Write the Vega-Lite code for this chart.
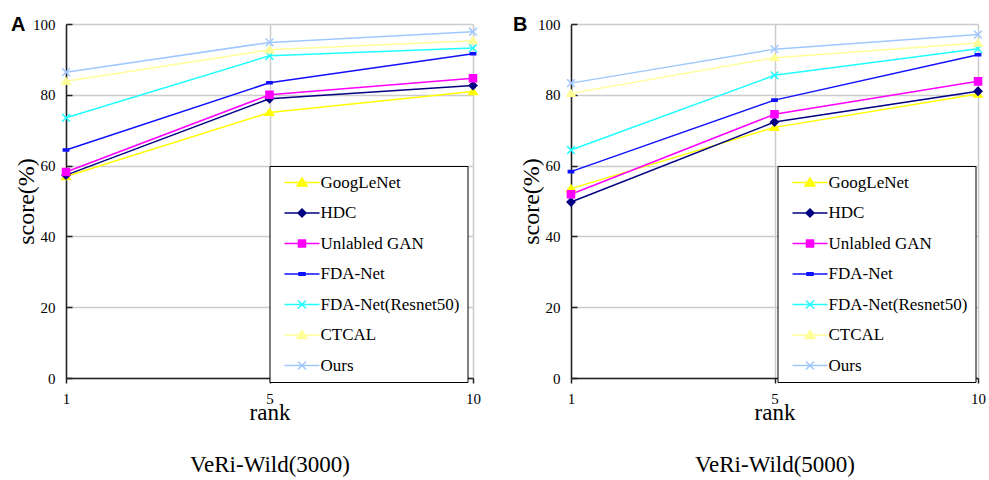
{
  "$schema": "https://vega.github.io/schema/vega-lite/v6.json",
  "padding": {"left": 11, "top": 15, "right": 5, "bottom": 5},
  "background": "white",
  "datasets": {
    "A": [
      {"method": "GoogLeNet", "rank": 1, "score": 56.9}, {"method": "GoogLeNet", "rank": 5, "score": 75.0}, {"method": "GoogLeNet", "rank": 10, "score": 80.9},
      {"method": "HDC", "rank": 1, "score": 57.3}, {"method": "HDC", "rank": 5, "score": 78.9}, {"method": "HDC", "rank": 10, "score": 82.6},
      {"method": "Unlabled GAN", "rank": 1, "score": 58.2}, {"method": "Unlabled GAN", "rank": 5, "score": 80.0}, {"method": "Unlabled GAN", "rank": 10, "score": 84.7},
      {"method": "FDA-Net", "rank": 1, "score": 64.4}, {"method": "FDA-Net", "rank": 5, "score": 83.4}, {"method": "FDA-Net", "rank": 10, "score": 91.6},
      {"method": "FDA-Net(Resnet50)", "rank": 1, "score": 73.5}, {"method": "FDA-Net(Resnet50)", "rank": 5, "score": 91.0}, {"method": "FDA-Net(Resnet50)", "rank": 10, "score": 93.2},
      {"method": "CTCAL", "rank": 1, "score": 83.8}, {"method": "CTCAL", "rank": 5, "score": 92.7}, {"method": "CTCAL", "rank": 10, "score": 95.3},
      {"method": "Ours", "rank": 1, "score": 86.4}, {"method": "Ours", "rank": 5, "score": 94.8}, {"method": "Ours", "rank": 10, "score": 97.8}
    ],
    "B": [
      {"method": "GoogLeNet", "rank": 1, "score": 53.5}, {"method": "GoogLeNet", "rank": 5, "score": 70.8}, {"method": "GoogLeNet", "rank": 10, "score": 80.2},
      {"method": "HDC", "rank": 1, "score": 49.7}, {"method": "HDC", "rank": 5, "score": 72.3}, {"method": "HDC", "rank": 10, "score": 81.0},
      {"method": "Unlabled GAN", "rank": 1, "score": 51.9}, {"method": "Unlabled GAN", "rank": 5, "score": 74.5}, {"method": "Unlabled GAN", "rank": 10, "score": 83.8},
      {"method": "FDA-Net", "rank": 1, "score": 58.3}, {"method": "FDA-Net", "rank": 5, "score": 78.5}, {"method": "FDA-Net", "rank": 10, "score": 91.3},
      {"method": "FDA-Net(Resnet50)", "rank": 1, "score": 64.4}, {"method": "FDA-Net(Resnet50)", "rank": 5, "score": 85.5}, {"method": "FDA-Net(Resnet50)", "rank": 10, "score": 93.0},
      {"method": "CTCAL", "rank": 1, "score": 80.4}, {"method": "CTCAL", "rank": 5, "score": 90.5}, {"method": "CTCAL", "rank": 10, "score": 94.6},
      {"method": "Ours", "rank": 1, "score": 83.3}, {"method": "Ours", "rank": 5, "score": 92.9}, {"method": "Ours", "rank": 10, "score": 97.0}
    ]
  },
  "spacing": 32,
  "resolve": {
    "scale": {"color": "independent", "shape": "independent", "fill": "independent", "stroke": "independent"},
    "legend": {"color": "independent"}
  },
  "hconcat": [
    {
      "width": 407, "height": 354,
      "title": {"text": "A", "anchor": "start", "frame": "group", "font": "Liberation Sans", "fontSize": 20, "fontWeight": "bold", "baseline": "alphabetic", "dx": -55, "offset": -34, "color": "black"},
      "data": {"name": "A"},
      "encoding": {
        "x": {"field": "rank", "type": "ordinal", "scale": {"type": "point", "padding": 0, "domain": [1, 5, 10]},
              "axis": {"title": ["rank", "VeRi-Wild(3000)"], "labelAngle": 0, "grid": true, "titleLineHeight": 52, "titlePadding": -5}},
        "y": {"field": "score", "type": "quantitative", "scale": {"domain": [0, 100], "nice": false},
              "axis": {"title": "score(%)", "values": [0, 20, 40, 60, 80, 100], "grid": true, "titleFontSize": 24, "titlePadding": -6}}
      },
      "layer": [
        {
          "mark": {"type": "line", "strokeWidth": 1.5},
          "encoding": {
            "color": {"field": "method", "type": "nominal",
              "scale": {"domain": ["GoogLeNet", "HDC", "Unlabled GAN", "FDA-Net", "FDA-Net(Resnet50)", "CTCAL", "Ours"],
                        "range": ["#FFFF00", "#000080", "#FF00FF", "#1010FF", "#20FFFF", "#FFFF99", "#A0C8FF"]},
              "legend": {"title": null, "orient": "none", "legendX": 203.5, "legendY": 142, "strokeColor": "black", "fillColor": "white",
                "padding": 8, "rowPadding": 12.5, "symbolSize": 100, "symbolOffset": 16, "labelOffset": 10,
                "labelFont": "Liberation Serif", "labelFontSize": 17, "labelColor": "black", "labelLimit": 300, "symbolStrokeWidth": 1.5,
                "encode": {
                  "symbols": {
                    "update": {
                      "shape": {"signal": "['M-3.5,0H3.5M0,-0.9L1,0.7H-1Z','M-3.5,0H3.5M0,-0.8L0.8,0L0,0.8L-0.8,0Z','M-3.5,0H3.5M-0.7,-0.7H0.7V0.7H-0.7Z','M-3.5,0H3.5M-0.6,-0.25H0.6V0.25H-0.6Z','M-3.5,0H3.5M-0.8,-0.8L0.8,0.8M-0.8,0.8L0.8,-0.8','M-3.5,0H3.5M0,-0.9L1,0.7H-1Z','M-3.5,0H3.5M-0.8,-0.8L0.8,0.8M-0.8,0.8L0.8,-0.8'][indexof(['GoogLeNet','HDC','Unlabled GAN','FDA-Net','FDA-Net(Resnet50)','CTCAL','Ours'], datum.value)]"},
                      "fill": {"signal": "['#FFFF00','#000080','#FF00FF','#1010FF','#20FFFF','#FFFF99','#A0C8FF'][indexof(['GoogLeNet','HDC','Unlabled GAN','FDA-Net','FDA-Net(Resnet50)','CTCAL','Ours'], datum.value)]"},
                      "strokeWidth": {"value": 1.5},
                      "opacity": {"value": 1}
                    }
                  }
                }
              }
            }
          }
        },
        {
          "mark": {"type": "point", "filled": true, "opacity": 1, "size": 50, "strokeWidth": 1.5},
          "encoding": {
            "shape": {"field": "method", "type": "nominal", "legend": null,
              "scale": {"domain": ["Ours", "CTCAL", "FDA-Net(Resnet50)", "FDA-Net", "Unlabled GAN", "HDC", "GoogLeNet"],
                        "range": ["M-1.1,-1.1L1.1,1.1M-1.1,1.1L1.1,-1.1", "M0,-1L1.2,0.8H-1.2Z", "M-1.1,-1.1L1.1,1.1M-1.1,1.1L1.1,-1.1", "M-0.75,-0.3H0.75V0.3H-0.75Z", "M-1,-1H1V1H-1Z", "M0,-1.1L1.1,0L0,1.1L-1.1,0Z", "M0,-1L1.2,0.8H-1.2Z"]}},
            "fill": {"field": "method", "type": "nominal", "legend": null,
              "scale": {"domain": ["Ours", "CTCAL", "FDA-Net(Resnet50)", "FDA-Net", "Unlabled GAN", "HDC", "GoogLeNet"],
                        "range": ["#A0C8FF", "#FFFF99", "#20FFFF", "#1010FF", "#FF00FF", "#000080", "#FFFF00"]}},
            "stroke": {"field": "method", "type": "nominal", "legend": null,
              "scale": {"domain": ["Ours", "CTCAL", "FDA-Net(Resnet50)", "FDA-Net", "Unlabled GAN", "HDC", "GoogLeNet"],
                        "range": ["#A0C8FF", "#FFFF99", "#20FFFF", "#1010FF", "#FF00FF", "#000080", "#FFFF00"]}}
          }
        }
      ]
    },
    {
      "width": 407, "height": 354,
      "title": {"text": "B", "anchor": "start", "frame": "group", "font": "Liberation Sans", "fontSize": 20, "fontWeight": "bold", "baseline": "alphabetic", "dx": -58, "offset": -34, "color": "black"},
      "data": {"name": "B"},
      "encoding": {
        "x": {"field": "rank", "type": "ordinal", "scale": {"type": "point", "padding": 0, "domain": [1, 5, 10]},
              "axis": {"title": ["rank", "VeRi-Wild(5000)"], "labelAngle": 0, "grid": true, "titleLineHeight": 52, "titlePadding": -5}},
        "y": {"field": "score", "type": "quantitative", "scale": {"domain": [0, 100], "nice": false},
              "axis": {"title": "score(%)", "values": [0, 20, 40, 60, 80, 100], "grid": true, "titleFontSize": 24, "titlePadding": -6}}
      },
      "layer": [
        {
          "mark": {"type": "line", "strokeWidth": 1.5},
          "encoding": {
            "color": {"field": "method", "type": "nominal",
              "scale": {"domain": ["GoogLeNet", "HDC", "Unlabled GAN", "FDA-Net", "FDA-Net(Resnet50)", "CTCAL", "Ours"],
                        "range": ["#FFFF00", "#000080", "#FF00FF", "#1010FF", "#20FFFF", "#FFFF99", "#A0C8FF"]},
              "legend": {"title": null, "orient": "none", "legendX": 206.5, "legendY": 142, "strokeColor": "black", "fillColor": "white",
                "padding": 8, "rowPadding": 12.5, "symbolSize": 100, "symbolOffset": 16, "labelOffset": 10,
                "labelFont": "Liberation Serif", "labelFontSize": 17, "labelColor": "black", "labelLimit": 300, "symbolStrokeWidth": 1.5,
                "encode": {
                  "symbols": {
                    "update": {
                      "shape": {"signal": "['M-3.5,0H3.5M0,-0.9L1,0.7H-1Z','M-3.5,0H3.5M0,-0.8L0.8,0L0,0.8L-0.8,0Z','M-3.5,0H3.5M-0.7,-0.7H0.7V0.7H-0.7Z','M-3.5,0H3.5M-0.6,-0.25H0.6V0.25H-0.6Z','M-3.5,0H3.5M-0.8,-0.8L0.8,0.8M-0.8,0.8L0.8,-0.8','M-3.5,0H3.5M0,-0.9L1,0.7H-1Z','M-3.5,0H3.5M-0.8,-0.8L0.8,0.8M-0.8,0.8L0.8,-0.8'][indexof(['GoogLeNet','HDC','Unlabled GAN','FDA-Net','FDA-Net(Resnet50)','CTCAL','Ours'], datum.value)]"},
                      "fill": {"signal": "['#FFFF00','#000080','#FF00FF','#1010FF','#20FFFF','#FFFF99','#A0C8FF'][indexof(['GoogLeNet','HDC','Unlabled GAN','FDA-Net','FDA-Net(Resnet50)','CTCAL','Ours'], datum.value)]"},
                      "strokeWidth": {"value": 1.5},
                      "opacity": {"value": 1}
                    }
                  }
                }
              }
            }
          }
        },
        {
          "mark": {"type": "point", "filled": true, "opacity": 1, "size": 50, "strokeWidth": 1.5},
          "encoding": {
            "shape": {"field": "method", "type": "nominal", "legend": null,
              "scale": {"domain": ["Ours", "CTCAL", "FDA-Net(Resnet50)", "FDA-Net", "Unlabled GAN", "HDC", "GoogLeNet"],
                        "range": ["M-1.1,-1.1L1.1,1.1M-1.1,1.1L1.1,-1.1", "M0,-1L1.2,0.8H-1.2Z", "M-1.1,-1.1L1.1,1.1M-1.1,1.1L1.1,-1.1", "M-0.75,-0.3H0.75V0.3H-0.75Z", "M-1,-1H1V1H-1Z", "M0,-1.1L1.1,0L0,1.1L-1.1,0Z", "M0,-1L1.2,0.8H-1.2Z"]}},
            "fill": {"field": "method", "type": "nominal", "legend": null,
              "scale": {"domain": ["Ours", "CTCAL", "FDA-Net(Resnet50)", "FDA-Net", "Unlabled GAN", "HDC", "GoogLeNet"],
                        "range": ["#A0C8FF", "#FFFF99", "#20FFFF", "#1010FF", "#FF00FF", "#000080", "#FFFF00"]}},
            "stroke": {"field": "method", "type": "nominal", "legend": null,
              "scale": {"domain": ["Ours", "CTCAL", "FDA-Net(Resnet50)", "FDA-Net", "Unlabled GAN", "HDC", "GoogLeNet"],
                        "range": ["#A0C8FF", "#FFFF99", "#20FFFF", "#1010FF", "#FF00FF", "#000080", "#FFFF00"]}}
          }
        }
      ]
    }
  ],
  "config": {
    "view": {"stroke": null},
    "font": "Liberation Serif",
    "axis": {
      "labelFont": "Liberation Serif", "labelFontSize": 15, "labelColor": "black",
      "titleFont": "Liberation Serif", "titleFontWeight": "normal", "titleColor": "black", "titleFontSize": 23,
      "domainColor": "#222222", "domainWidth": 1.5, "tickColor": "#222222", "tickWidth": 1.5, "tickSize": 5,
      "gridColor": "#cccccc", "gridWidth": 1.5, "labelPadding": 4
    },
    "axisX": {"labelPadding": 8},
    "axisY": {"tickSize": -6, "labelPadding": 17}
  }
}
